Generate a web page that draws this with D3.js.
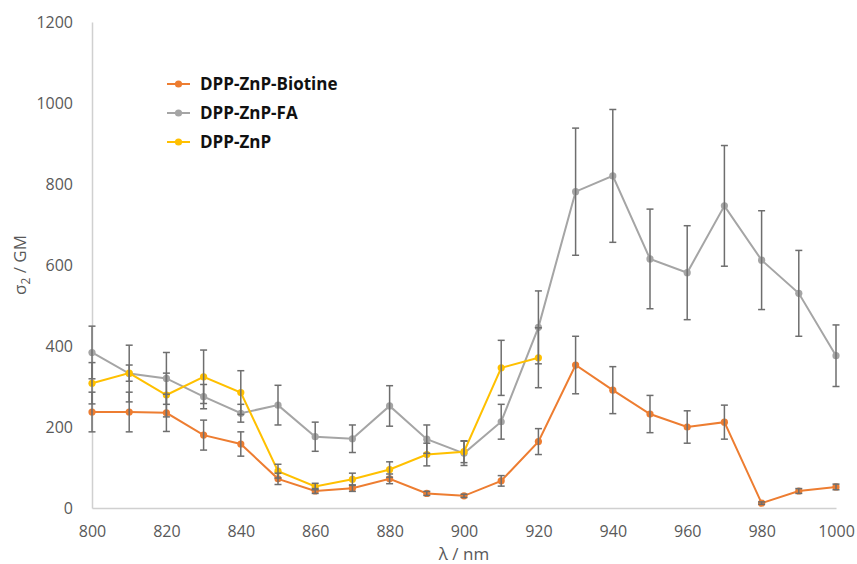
<!DOCTYPE html>
<html>
<head>
<meta charset="utf-8">
<script src="https://cdn.jsdelivr.net/npm/d3@7"></script>
<style>
  body { margin: 0; background: #fff; }
  svg text { font-family: "Open Sans", "Noto Sans", sans-serif; }
</style>
</head>
<body>
<div id="chart"></div>
<script>
// wavelengths (nm)
const wavelengths = [800, 810, 820, 830, 840, 850, 860, 870, 880, 890, 900, 910, 920, 930, 940, 950, 960, 970, 980, 990, 1000];

// sigma2 values (GM) and error bars
const biotine    = [237, 237, 235, 180, 158, 72, 42, 49, 72, 36, 30, 67, 164, 353, 291, 232, 200, 212, 12, 42, 52];
const biotineErr = [49, 49, 46, 37, 30, 14, 6, 8, 12, 5, 4, 13, 32, 71, 58, 46, 40, 42, 3, 6, 7];
const fa         = [384, 332, 320, 275, 234, 254, 176, 171, 252, 170, 135, 213, 446, 781, 820, 615, 581, 746, 612, 530, 376];
const faErr      = [65, 70, 64, 30, 22, 49, 36, 34, 50, 35, 30, 43, 90, 157, 164, 123, 116, 149, 122, 106, 76];
const znp        = [308, 333, 279, 324, 285, 91, 53, 71, 95, 132, 139, 346, 371];
const znpErr     = [51, 20, 54, 66, 54, 17, 8, 15, 19, 28, 27, 68, 74];

const seriesNames = ['DPP-ZnP-Biotine', 'DPP-ZnP-FA', 'DPP-ZnP'];
const xTicks = [800, 820, 840, 860, 880, 900, 920, 940, 960, 980, 1000];
const yTicks = [0, 200, 400, 600, 800, 1000, 1200];

const width = 857, height = 564;
const margin = {top: 22, right: 21, bottom: 56, left: 92};

const svg = d3.select('#chart').append('svg')
  .attr('width', width)
  .attr('height', height);

const x = d3.scaleLinear()
  .domain([800, 1000])
  .range([margin.left, width - margin.right]);

const y = d3.scaleLinear()
  .domain([0, 1200])
  .range([height - margin.bottom, margin.top]);

const colors = ['#ED7D31', '#A5A5A5', '#FFC000'];

// axes
const xAxis = svg.append('g')
  .attr('transform', `translate(0,${y(0)})`)
  .call(d3.axisBottom(x).tickValues(xTicks).tickSize(0).tickPadding(18).tickFormat(d3.format('d')));
xAxis.select('.domain').attr('stroke', '#d0d0d0').attr('stroke-width', 1.5);
xAxis.selectAll('text').attr('fill', '#595959').style('font-size', '16px');

const yAxis = svg.append('g')
  .attr('transform', `translate(${x(800)},0)`)
  .call(d3.axisLeft(y).tickValues(yTicks).tickSize(0).tickPadding(19).tickFormat(d3.format('d')));
yAxis.select('.domain').attr('stroke', '#d0d0d0').attr('stroke-width', 1.5);
yAxis.selectAll('text').attr('fill', '#595959').style('font-size', '16px');

// axis titles
svg.append('text')
  .attr('x', (x(800) + x(1000)) / 2)
  .attr('y', 560)
  .attr('text-anchor', 'middle')
  .attr('fill', '#595959')
  .style('font-size', '17px')
  .text('λ / nm');

const yTitle = svg.append('text')
  .attr('transform', `translate(26,${(y(0) + y(1200)) / 2}) rotate(-90)`)
  .attr('text-anchor', 'middle')
  .attr('fill', '#595959')
  .style('font-size', '17px');
yTitle.append('tspan').text('σ');
yTitle.append('tspan').attr('dy', 4).style('font-size', '12px').text('2');
yTitle.append('tspan').attr('dy', -4).text(' / GM');

// series
const series = [
  {name: seriesNames[0], values: biotine, errors: biotineErr, color: colors[0]},
  {name: seriesNames[1], values: fa, errors: faErr, color: colors[1]},
  {name: seriesNames[2], values: znp, errors: znpErr, color: colors[2]}
];

const line = d3.line()
  .x(d => x(d.x))
  .y(d => y(d.y));

series.forEach(s => {
  s.points = s.values.map((v, i) => ({x: wavelengths[i], y: v, e: s.errors[i]}));

  let g = svg.append('g').attr('class', 'series');

  g.append('path')
    .datum(s.points)
    .attr('d', line)
    .attr('fill', 'none')
    .attr('stroke', s.color)
    .attr('stroke-width', 2);

  g.selectAll('circle')
    .data(s.points)
    .enter().append('circle')
    .attr('cx', d => x(d.x))
    .attr('cy', d => y(d.y))
    .attr('r', 3.6)
    .attr('fill', s.color);
});

// error bars on top
series.forEach(s => {
  let eb = svg.append('g').attr('class', 'errorbars')
    .attr('stroke', '#6e6e6e')
    .attr('stroke-width', 1.5);

  let bars = eb.selectAll('g')
    .data(s.points)
    .enter().append('g');

  bars.append('line')
    .attr('x1', d => x(d.x)).attr('x2', d => x(d.x))
    .attr('y1', d => y(d.y + d.e)).attr('y2', d => y(d.y - d.e));
  bars.append('line')
    .attr('x1', d => x(d.x) - 3.5).attr('x2', d => x(d.x) + 3.5)
    .attr('y1', d => y(d.y + d.e)).attr('y2', d => y(d.y + d.e));
  bars.append('line')
    .attr('x1', d => x(d.x) - 3.5).attr('x2', d => x(d.x) + 3.5)
    .attr('y1', d => y(d.y - d.e)).attr('y2', d => y(d.y - d.e));
});

// legend
const legend = svg.append('g')
  .attr('transform', 'translate(167,84)');

let items = legend.selectAll('g')
  .data(series)
  .enter().append('g')
  .attr('transform', (d, i) => `translate(0,${i * 29})`);

items.append('line')
  .attr('x1', 0).attr('x2', 23)
  .attr('stroke', d => d.color)
  .attr('stroke-width', 2);
items.append('circle')
  .attr('cx', 11.5)
  .attr('r', 3.6)
  .attr('fill', d => d.color);
items.append('text')
  .attr('x', 33)
  .attr('dy', '0.35em')
  .attr('fill', '#111')
  .style('font-size', '17px')
  .style('font-weight', 'bold')
  .text(d => d.name);
</script>
</body>
</html>
